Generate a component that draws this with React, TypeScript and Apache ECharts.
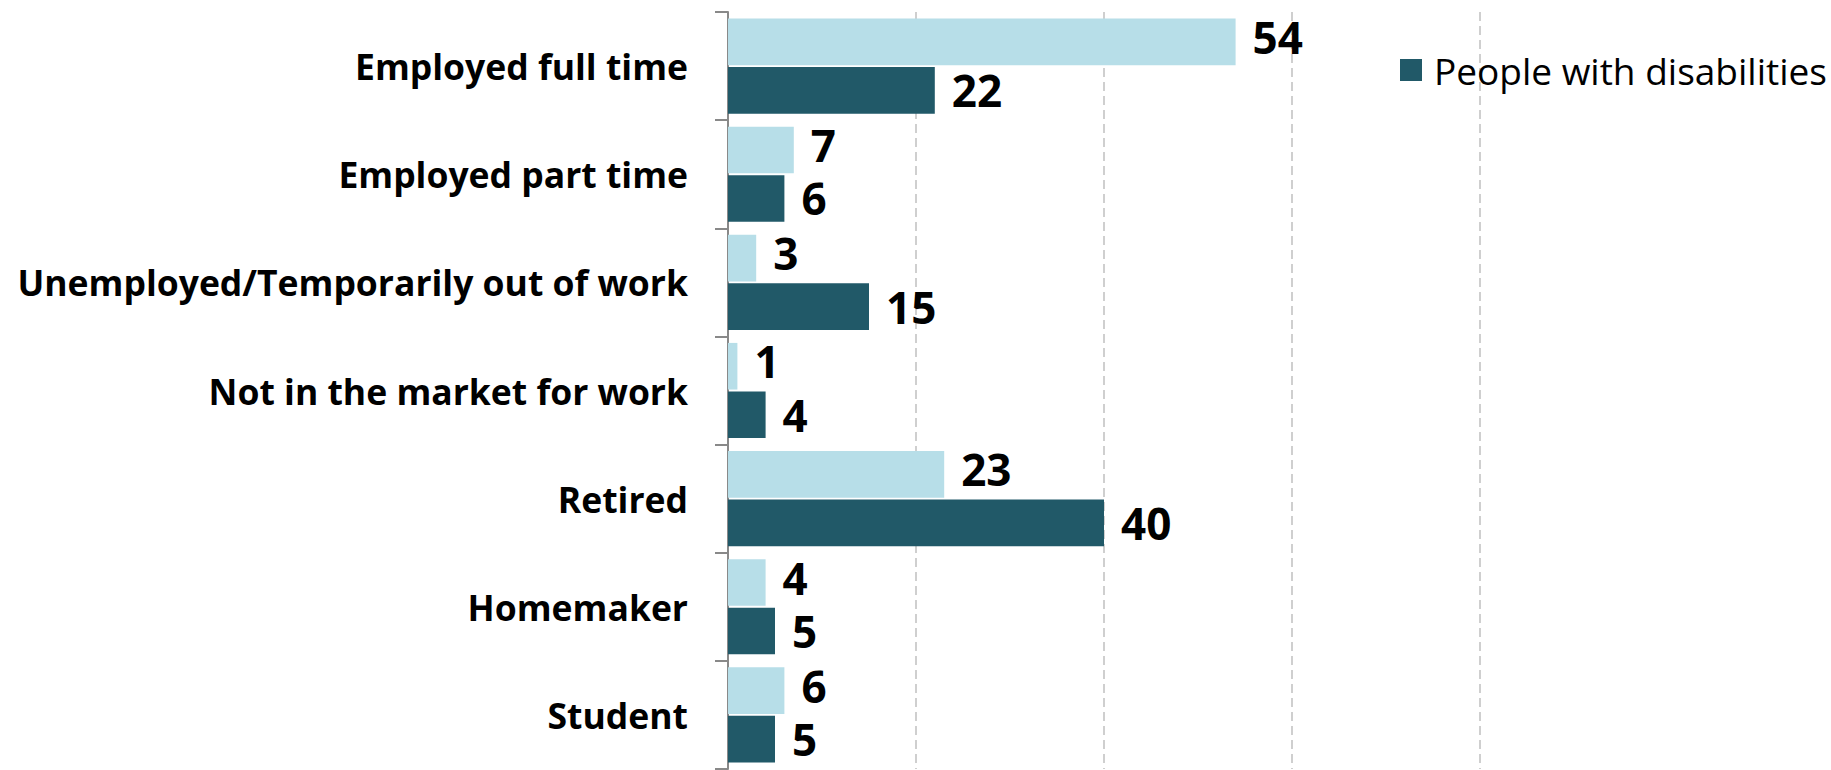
import React, { useEffect, useRef } from "react";
import * as echarts from "echarts";

const categories = [
  "Employed full time",
  "Employed part time",
  "Unemployed/Temporarily out of work",
  "Not in the market for work",
  "Retired",
  "Homemaker",
  "Student",
];
const generalValues = [54, 7, 3, 1, 23, 4, 6];
const disabledValues = [22, 6, 15, 4, 40, 5, 5];
const seriesNames = ["General population", "People with disabilities"];
const axisMax = 80;
const axisInterval = 20;

const FONT = "'Open Sans', 'Noto Sans', 'DejaVu Sans', sans-serif";

export default function App() {
  const ref = useRef<HTMLDivElement>(null);
  useEffect(() => {
    if (!ref.current) return;
    const chart = echarts.init(ref.current, null, { renderer: "svg" });
    const baseLabel = {
      show: true,
      position: "right",
      distance: 17,
      fontFamily: FONT,
      fontSize: 44,
      lineHeight: 44,
      fontWeight: "bold",
      color: "#000000",
    };
    chart.setOption({
      animation: false,
      backgroundColor: "#ffffff",
      textStyle: { fontFamily: FONT },
      grid: { left: 728, top: 12, width: 752, height: 757, containLabel: false },
      legend: {
        data: [seriesNames[1]],
        left: 1395,
        top: 45,
        icon: "rect",
        itemWidth: 22,
        itemHeight: 22,
        textStyle: {
          fontFamily: FONT,
          fontSize: 37,
          color: "#000000",
          lineHeight: 40,
          padding: [0, 0, 0, 7],
        },
      },
      xAxis: {
        type: "value",
        min: 0,
        max: axisMax,
        interval: axisInterval,
        axisLabel: { show: false },
        axisLine: { show: false },
        axisTick: { show: false },
        splitLine: {
          show: true,
          lineStyle: { color: "#c0c0c0", width: 1.5, type: [9, 5] },
        },
      },
      yAxis: {
        type: "category",
        data: categories,
        inverse: true,
        axisLine: { show: true, lineStyle: { color: "#898989", width: 2 } },
        axisTick: { show: true, length: 13, lineStyle: { color: "#898989", width: 2 } },
        axisLabel: {
          margin: 40,
          fontFamily: FONT,
          fontSize: 35.5,
          fontWeight: "bold",
          color: "#000000",
        },
        splitLine: { show: false },
      },
      series: [
        {
          name: seriesNames[0],
          type: "bar",
          data: generalValues,
          itemStyle: { color: "#b7dee8" },
          barCategoryGap: "12%",
          barGap: "4%",
          label: { ...baseLabel, offset: [0, -5] },
        },
        {
          name: seriesNames[1],
          type: "bar",
          data: disabledValues,
          itemStyle: { color: "#215968" },
          barCategoryGap: "12%",
          barGap: "4%",
          label: { ...baseLabel, offset: [0, 0] },
        },
      ],
    });
    return () => chart.dispose();
  }, []);
  return (
    <div
      ref={ref}
      style={{ position: "absolute", left: 0, top: 0, width: 1831, height: 770 }}
    />
  );
}
